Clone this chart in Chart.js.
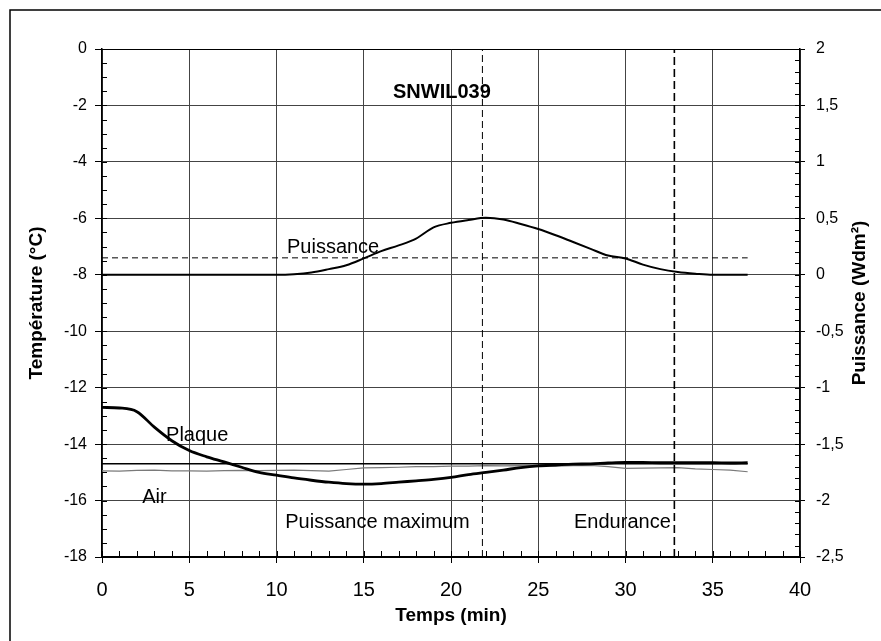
<!DOCTYPE html>
<html>
<head>
<meta charset="utf-8">
<script src="https://cdn.jsdelivr.net/npm/chart.js@4/dist/chart.umd.min.js"></script>
<style>
    html, body { margin: 0; padding: 0; background: #fff; }
</style>
</head>
<body>
<canvas id="snwilChart" width="881" height="641"></canvas>
<script>
// temps (min), un point par minute
const minutes = [0, 1, 2, 3, 4, 5, 6, 7, 8, 9, 10, 11, 12, 13, 14, 15, 16, 17, 18, 19,
    20, 21, 22, 23, 24, 25, 26, 27, 28, 29, 30, 31, 32, 33, 34, 35, 36, 37];
// température plaque (°C)
const plaqueTemp = [-12.70, -12.72, -12.85, -13.40, -13.88, -14.23, -14.45, -14.63, -14.82, -15.00,
    -15.10, -15.20, -15.28, -15.35, -15.40, -15.42, -15.40, -15.35, -15.30, -15.25,
    -15.18, -15.08, -15.00, -14.92, -14.83, -14.77, -14.74, -14.71, -14.70, -14.67,
    -14.65, -14.65, -14.66, -14.66, -14.66, -14.66, -14.67, -14.66];
// température air (°C)
const airTemp = [-14.95, -14.96, -14.93, -14.92, -14.95, -14.95, -14.96, -14.94, -14.93, -14.94,
    -14.93, -14.92, -14.94, -14.96, -14.90, -14.84, -14.83, -14.82, -14.80, -14.80,
    -14.78, -14.78, -14.76, -14.77, -14.76, -14.77, -14.78, -14.76, -14.75, -14.80,
    -14.86, -14.85, -14.84, -14.83, -14.88, -14.90, -14.92, -14.98];
// puissance (W/dm²)
const puissance = [0, 0, 0, 0, 0, 0, 0, 0, 0, 0,
    0, 0.005, 0.02, 0.05, 0.085, 0.145, 0.21, 0.26, 0.32, 0.42,
    0.46, 0.485, 0.505, 0.49, 0.45, 0.405, 0.35, 0.29, 0.23, 0.17,
    0.145, 0.09, 0.05, 0.025, 0.01, 0, 0, 0];

const consigneTemp = -14.7;       // ligne horizontale pleine (°C)
const puissanceRef = 0.15;        // ligne horizontale pointillée (W/dm²)
const refStart = 0;
const refEnd = 37;
const phaseLimits = [21.8, 32.8]; // fin puissance maximum / fin endurance

const annotations = [
    {text: 'SNWIL039', x: 19.48, y: -1.73, bold: true, align: 'center'},
    {text: 'Puissance', x: 10.6, y: -7.23},
    {text: 'Plaque', x: 3.67, y: -13.89},
    {text: 'Air', x: 2.3, y: -16.09},
    {text: 'Puissance maximum', x: 10.5, y: -16.97},
    {text: 'Endurance', x: 27.05, y: -16.97}
];

const FONT = "'Liberation Sans', Arial, sans-serif";

function toPoints(xs, ys) {
    return xs.map((x, i) => ({x: x, y: ys[i]}));
}

const decorPlugin = {
    id: 'decor',
    beforeDraw(chart) {
        const ctx = chart.ctx;
        ctx.save();
        ctx.fillStyle = '#fff';
        ctx.fillRect(0, 0, chart.width, chart.height);
        ctx.strokeStyle = '#000';
        ctx.lineWidth = 1.5;
        ctx.strokeRect(10, 10, chart.width + 20, chart.height + 20);
        ctx.restore();
    },
    afterDraw(chart) {
        const ctx = chart.ctx;
        const {x, y, y1} = chart.scales;
        const area = chart.chartArea;
        ctx.save();
        ctx.strokeStyle = '#000';
        ctx.lineWidth = 1;
        ctx.beginPath();
        // petites graduations intérieures
        for (let m = 0; m <= 40; m += 1) {
            const px = Math.round(x.getPixelForValue(m)) + 0.5;
            ctx.moveTo(px, area.bottom);
            ctx.lineTo(px, area.bottom - 6);
        }
        for (let t = -18; t <= 0.001; t += 0.5) {
            const py = Math.round(y.getPixelForValue(t)) + 0.5;
            ctx.moveTo(area.left, py);
            ctx.lineTo(area.left + 5, py);
        }
        for (let i = 0; i <= 45; i++) {
            const py = Math.round(y1.getPixelForValue(-2.5 + i * 0.1)) + 0.5;
            ctx.moveTo(area.right, py);
            ctx.lineTo(area.right - 5, py);
        }
        ctx.stroke();

        ctx.fillStyle = '#000';
        ctx.textBaseline = 'alphabetic';
        annotations.forEach(a => {
            ctx.font = (a.bold ? 'bold ' : '') + '20px ' + FONT;
            ctx.textAlign = a.align || 'left';
            ctx.fillText(a.text, x.getPixelForValue(a.x), y.getPixelForValue(a.y));
        });

        // titre de l'axe de droite, lu de bas en haut comme à gauche
        ctx.font = 'bold 19px ' + FONT;
        ctx.textAlign = 'center';
        ctx.textBaseline = 'middle';
        ctx.translate(860, (area.top + area.bottom) / 2);
        ctx.rotate(-Math.PI / 2);
        ctx.fillText('Puissance (Wdm²)', 0, 0);
        ctx.restore();
    }
};

const graph = document.getElementById('snwilChart').getContext('2d');

new Chart(graph, {
    type: 'line',
    data: {
        datasets: [
            {
                label: 'Plaque',
                data: toPoints(minutes, plaqueTemp),
                borderColor: '#000',
                borderWidth: 2.8,
                yAxisID: 'y',
                cubicInterpolationMode: 'monotone'
            },
            {
                label: 'Puissance',
                data: toPoints(minutes, puissance),
                borderColor: '#000',
                borderWidth: 2,
                yAxisID: 'y1',
                cubicInterpolationMode: 'monotone'
            },
            {
                label: 'Consigne',
                data: [{x: refStart, y: consigneTemp}, {x: refEnd, y: consigneTemp}],
                borderColor: '#000',
                borderWidth: 1.5,
                yAxisID: 'y'
            },
            {
                label: 'Puissance ref',
                data: [{x: refStart, y: puissanceRef}, {x: refEnd, y: puissanceRef}],
                borderColor: '#000',
                borderWidth: 1,
                borderDash: [6, 4],
                yAxisID: 'y1'
            },
            {
                label: 'Fin puissance maximum',
                data: [{x: phaseLimits[0], y: -18}, {x: phaseLimits[0], y: 0}],
                borderColor: '#000',
                borderWidth: 1,
                borderDash: [7, 4],
                yAxisID: 'y'
            },
            {
                label: 'Fin endurance',
                data: [{x: phaseLimits[1], y: -18}, {x: phaseLimits[1], y: 0}],
                borderColor: '#000',
                borderWidth: 1.6,
                borderDash: [8, 4],
                yAxisID: 'y'
            },
            {
                label: 'Air',
                data: toPoints(minutes, airTemp),
                borderColor: '#7a7a7a',
                borderWidth: 1.2,
                yAxisID: 'y'
            }
        ]
    },
    options: {
        responsive: false,
        animation: false,
        layout: {padding: {top: 49}},
        elements: {point: {radius: 0}},
        plugins: {
            legend: {display: false},
            tooltip: {enabled: false}
        },
        scales: {
            x: {
                type: 'linear',
                min: 0,
                max: 40,
                ticks: {stepSize: 5, color: '#000', padding: 15, maxRotation: 0, font: {family: FONT, size: 20}},
                grid: {color: '#444', lineWidth: 1, tickLength: 6, tickColor: '#000'},
                border: {color: '#000', width: 2},
                title: {display: true, text: 'Temps (min)', color: '#000',
                    font: {family: FONT, size: 19, weight: 'bold'}, padding: {top: 0, bottom: 14}},
                afterFit: s => { s.height = 84; }
            },
            y: {
                position: 'left',
                min: -18,
                max: 0,
                ticks: {stepSize: 2, color: '#000', padding: 8, font: {family: FONT, size: 16}},
                grid: {
                    color: ctx => ctx.tick && ctx.tick.value === 0 ? '#000' : '#444',
                    lineWidth: 1, tickLength: 7, tickColor: '#000'
                },
                border: {color: '#000', width: 1.5},
                title: {display: true, text: 'Température (°C)', color: '#000',
                    font: {family: FONT, size: 19, weight: 'bold'}, padding: {top: 25, bottom: 0}},
                afterFit: s => { s.width = 102; }
            },
            y1: {
                position: 'right',
                min: -2.5,
                max: 2,
                ticks: {
                    stepSize: 0.5, color: '#000', padding: 11, font: {family: FONT, size: 16},
                    callback: v => String(v).replace('.', ',')
                },
                grid: {drawOnChartArea: false, tickLength: 5, color: '#000'},
                border: {color: '#000', width: 1.5},
                afterFit: s => { s.width = 81; }
            }
        }
    },
    plugins: [decorPlugin]
});
</script>
</body>
</html>
